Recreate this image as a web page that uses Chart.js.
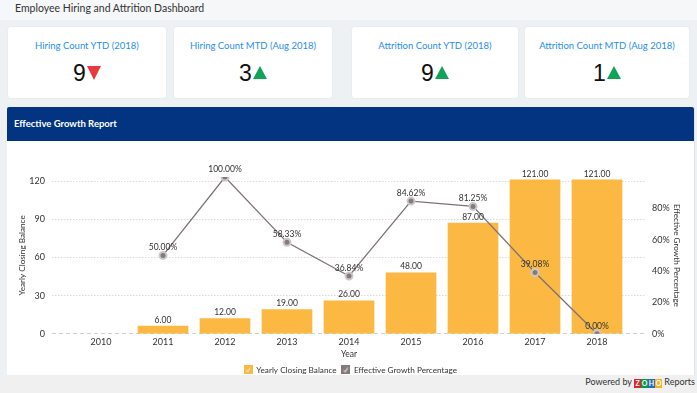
<!DOCTYPE html>
<html><head><meta charset="utf-8">
<script src="https://cdn.jsdelivr.net/npm/chart.js@4.4.1/dist/chart.umd.min.js"></script>
<style>
html,body{margin:0;padding:0}
body{width:697px;height:393px;position:relative;overflow:hidden;background:#edf1f4;font-family:Lato,"Open Sans",sans-serif;color:#333}
#top{position:absolute;left:0;top:0;width:697px;height:20px;background:#f6f7f9}
#dtitle{position:absolute;left:15px;top:1px;font-size:10.5px;line-height:15px;color:#333}
.card{position:absolute;top:27px;height:71px;background:#fff;border-radius:3px;box-shadow:0 0 2px rgba(0,0,0,0.07)}
.card .t{position:absolute;left:0;right:0;top:13px;text-align:center;font-size:9.5px;line-height:12px;color:#1f8fef}
.card .v{position:absolute;left:0;right:0;top:32px;text-align:center;font-family:"Liberation Sans",Arial,sans-serif;font-size:23px;line-height:28px;color:#111}
.dn{display:inline-block;width:0;height:0;border-left:7.5px solid transparent;border-right:7.5px solid transparent;border-top:14px solid #e8393d;vertical-align:1px;margin-left:1px}
.up{display:inline-block;width:0;height:0;border-left:7.5px solid transparent;border-right:7.5px solid transparent;border-bottom:13px solid #10a45a;vertical-align:2px;margin-left:1px}
#panel{position:absolute;left:7px;top:107px;width:687px;height:268px;background:#fff;border-right:1px solid #e3e3e3}
#phead{position:absolute;left:0;top:0;width:687px;height:34px;background:#033481;border-radius:2px 2px 0 0}
#phead span{position:absolute;left:7px;top:11px;font-size:9.5px;font-weight:bold;color:#fff;line-height:12px}
#cwrap{position:absolute;left:1px;top:34px;width:685px;height:243px}
#foot{position:absolute;left:0;top:375px;width:697px;height:18px;background:#f0f0f0}
#foot .p{position:absolute;right:2px;top:1px;font-size:9px;line-height:12px;color:#333}
.z{display:inline-block;width:7px;height:9px;color:#fff;font-size:7px;line-height:9px;text-align:center;font-weight:bold;vertical-align:-1px}
</style></head>
<body>
<div id="top"><div id="dtitle">Employee Hiring and Attrition Dashboard</div></div>
<div class="card" style="left:8px;width:158px"><div class="t">Hiring Count YTD (2018)</div><div class="v">9<span class="dn"></span></div></div>
<div class="card" style="left:174px;width:158px"><div class="t">Hiring Count MTD (Aug 2018)</div><div class="v">3<span class="up"></span></div></div>
<div class="card" style="left:352px;width:166px"><div class="t">Attrition Count YTD (2018)</div><div class="v">9<span class="up"></span></div></div>
<div class="card" style="left:525px;width:164px"><div class="t">Attrition Count MTD (Aug 2018)</div><div class="v">1<span class="up"></span></div></div>
<div id="panel">
  <div id="phead"><span>Effective Growth Report</span></div>
  <div id="cwrap"><canvas id="c" width="685" height="243"></canvas></div>
</div>
<div id="foot"><div class="p">Powered by <span class="z" style="background:#e42527">Z</span><span class="z" style="background:#089949">O</span><span class="z" style="background:#226db4">H</span><span class="z" style="background:#f9b21d">O</span> Reports</div></div>
<script>
const categories = ['2010','2011','2012','2013','2014','2015','2016','2017','2018'];
const closingBalance = [null, 6, 12, 19, 26, 48, 87, 121, 121];
const growthPct = [null, 50.00, 100.00, 58.33, 36.84, 84.62, 81.25, 39.08, 0.00];
const leftTicks = [0, 30, 60, 90, 120];
const rightTicks = [0, 20, 40, 60, 80];

const BAR_COLOR = '#fbb843';
const LINE_COLOR = '#7e7272';

function checkBox(color){
  const c=document.createElement('canvas'); c.width=9; c.height=9;
  const g=c.getContext('2d'); g.fillStyle=color; g.fillRect(0,0,9,9);
  g.strokeStyle='#fff'; g.lineWidth=1; g.beginPath(); g.moveTo(2.5,4.8); g.lineTo(4,6.5); g.lineTo(6.5,2.5); g.stroke();
  return c;
}

const valueLabels = {
  id:'valueLabels',
  afterDatasetsDraw(chart){
    const ctx=chart.ctx; ctx.save();
    ctx.font='8.5px Lato'; ctx.fillStyle='#333'; ctx.textAlign='center'; ctx.textBaseline='middle';
    chart.data.datasets.forEach((ds,di)=>{
      const meta=chart.getDatasetMeta(di);
      meta.data.forEach((el,i)=>{
        const v=ds.data[i].y; if(v==null) return;
        const txt = di===0 ? v.toFixed(2) : v.toFixed(2)+'%';
        ctx.fillText(txt, el.x, el.y - (di===0?6:8));
      });
    });
    ctx.restore();
  }
};

Chart.defaults.font.family = 'Lato, "Open Sans", sans-serif';
Chart.defaults.font.size = 9;
Chart.defaults.color = '#333';

new Chart(document.getElementById('c'), {
  type:'bar',
  data:{
    datasets:[
      {type:'bar', label:'Yearly Closing Balance', data:categories.map((c,i)=>({x:i,y:closingBalance[i]})), backgroundColor:BAR_COLOR, barThickness:50, yAxisID:'y', order:2},
      {type:'line', label:'Effective Growth Percentage', data:categories.map((c,i)=>({x:i,y:growthPct[i]})).filter(p=>p.y!==null), borderColor:LINE_COLOR, borderWidth:1.3, tension:0, pointRadius:3.5, pointBackgroundColor:'#857a7a', pointBorderColor:'#cdc8c8', pointBorderWidth:2, yAxisID:'y1', order:1}
    ]
  },
  options:{
    responsive:false, animation:false,
    layout:{padding:{top:36,left:0,right:0,bottom:0}},
    plugins:{
      tooltip:{enabled:false},
      legend:{position:'bottom', labels:{usePointStyle:true, boxWidth:9, boxHeight:9, padding:5, color:'#333', font:{size:8.2},
        generateLabels:(chart)=>chart.data.datasets.map((ds,i)=>({text:ds.label, pointStyle:checkBox(i===0?BAR_COLOR:'#857a7a'), fillStyle:i===0?BAR_COLOR:'#857a7a', strokeStyle:'transparent', lineWidth:0, datasetIndex:i, hidden:false, fontColor:'#333'}))
      }}
    },
    scales:{
      x:{type:'linear', min:-0.79, max:8.79, offset:false,
        grid:{display:false, drawTicks:false}, border:{display:false},
        ticks:{stepSize:1, includeBounds:false, autoSkip:false, maxRotation:0, padding:3, callback:(v)=>categories[v] ?? ''},
        title:{display:true, text:'Year', color:'#333', font:{size:8.5}, padding:{top:2,bottom:1.5}},
        afterFit:(s)=>{s.height=27;}
      },
      y:{position:'left', min:0, max:123.2,
        afterBuildTicks:(s)=>{s.ticks=leftTicks.map(v=>({value:v}));},
        ticks:{padding:7, color:'#333'},
        grid:{color:(ctx)=>ctx.tick && ctx.tick.value===0 ? '#cfcfcf' : '#dadada', drawTicks:false, lineWidth:1},
        border:{display:false, dash:(ctx)=>ctx.tick && ctx.tick.value===0 ? [4,3] : [1.5,1.5]},
        title:{display:true, text:'Yearly Closing Balance', color:'#333', font:{size:8.2}, padding:{top:9,bottom:0}},
        afterFit:(s)=>{s.width=44;}
      },
      y1:{position:'right', min:0, max:100,
        afterBuildTicks:(s)=>{s.ticks=rightTicks.map(v=>({value:v}));},
        ticks:{padding:6, color:'#333', callback:(v)=>v+'%'},
        grid:{display:false, drawTicks:false}, border:{display:false},
        title:{display:true, text:'Effective Growth Percentage', color:'#333', font:{size:8.2}, padding:{top:11,bottom:0}},
        afterFit:(s)=>{s.width=47;}
      }
    }
  },
  plugins:[valueLabels]
});
</script>
</body></html>
